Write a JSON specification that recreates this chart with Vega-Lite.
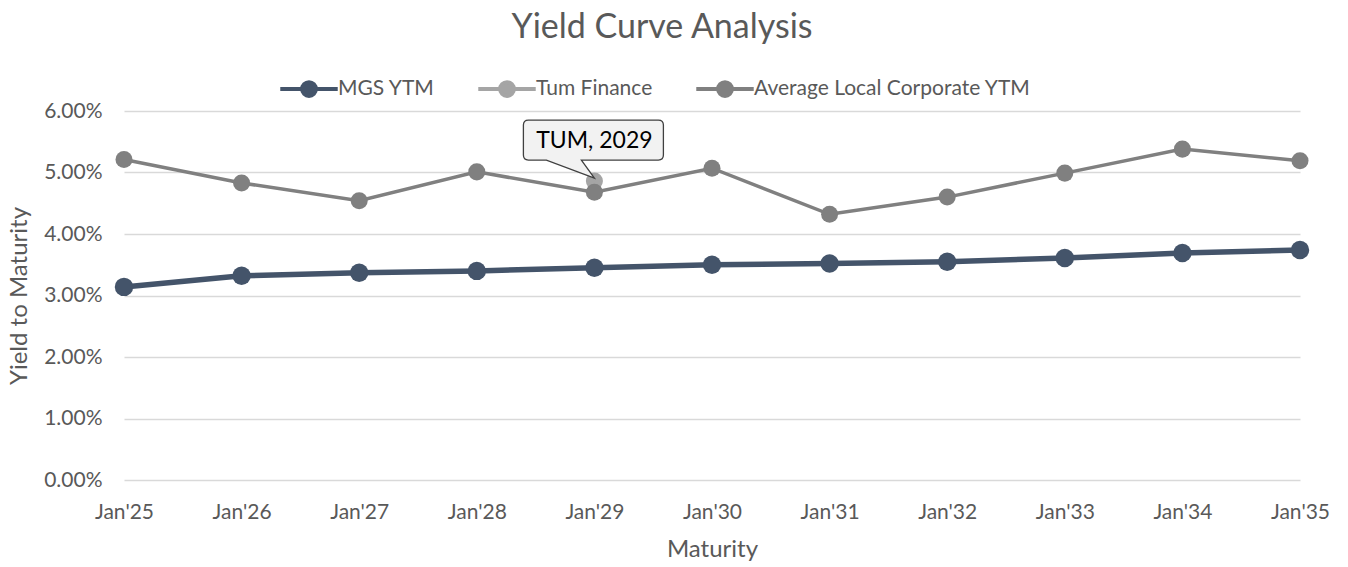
{
  "$schema": "https://vega.github.io/schema/vega-lite/v6.json",
  "autosize": "none",
  "padding": {"left": 124, "top": 111, "right": 48, "bottom": 87},
  "width": 1176,
  "height": 369,
  "background": "white",
  "config": {
    "font": "Lato",
    "view": {"stroke": null},
    "axis": {"labelFont": "Lato", "titleFont": "Lato", "labelColor": "#595959", "titleColor": "#595959", "titleFontWeight": "normal"}
  },
  "title": {"text": "Yield Curve Analysis", "fontSize": 34, "fontWeight": "normal", "color": "#595959", "font": "Lato", "anchor": "middle", "dx": -50, "offset": 13},
  "data": {"values": [
    {"date": "Jan'25", "series": "MGS YTM", "ytm": 0.0314},
    {"date": "Jan'26", "series": "MGS YTM", "ytm": 0.0332},
    {"date": "Jan'27", "series": "MGS YTM", "ytm": 0.0337},
    {"date": "Jan'28", "series": "MGS YTM", "ytm": 0.0340},
    {"date": "Jan'29", "series": "MGS YTM", "ytm": 0.0345},
    {"date": "Jan'30", "series": "MGS YTM", "ytm": 0.0350},
    {"date": "Jan'31", "series": "MGS YTM", "ytm": 0.0352},
    {"date": "Jan'32", "series": "MGS YTM", "ytm": 0.0355},
    {"date": "Jan'33", "series": "MGS YTM", "ytm": 0.0361},
    {"date": "Jan'34", "series": "MGS YTM", "ytm": 0.0369},
    {"date": "Jan'35", "series": "MGS YTM", "ytm": 0.0374},
    {"date": "Jan'29", "series": "Tum Finance", "ytm": 0.0486},
    {"date": "Jan'25", "series": "Average Local Corporate YTM", "ytm": 0.0521},
    {"date": "Jan'26", "series": "Average Local Corporate YTM", "ytm": 0.0483},
    {"date": "Jan'27", "series": "Average Local Corporate YTM", "ytm": 0.0454},
    {"date": "Jan'28", "series": "Average Local Corporate YTM", "ytm": 0.0501},
    {"date": "Jan'29", "series": "Average Local Corporate YTM", "ytm": 0.0468},
    {"date": "Jan'30", "series": "Average Local Corporate YTM", "ytm": 0.0507},
    {"date": "Jan'31", "series": "Average Local Corporate YTM", "ytm": 0.0432},
    {"date": "Jan'32", "series": "Average Local Corporate YTM", "ytm": 0.0460},
    {"date": "Jan'33", "series": "Average Local Corporate YTM", "ytm": 0.0499},
    {"date": "Jan'34", "series": "Average Local Corporate YTM", "ytm": 0.0538},
    {"date": "Jan'35", "series": "Average Local Corporate YTM", "ytm": 0.0519}
  ]},
  "encoding": {
    "x": {"field": "date", "type": "ordinal", "sort": null,
      "scale": {"type": "point", "padding": 0},
      "axis": {"title": "Maturity", "labelAngle": 0, "labelFontSize": 21, "titleFontSize": 24, "labelPadding": 21, "titlePadding": 15, "ticks": false, "domain": false, "grid": false}},
    "y": {"field": "ytm", "type": "quantitative",
      "scale": {"domain": [0, 0.06], "nice": false},
      "axis": {"title": "Yield to Maturity", "format": ".2%", "values": [0, 0.01, 0.02, 0.03, 0.04, 0.05, 0.06], "labelFontSize": 21, "titleFontSize": 24, "labelPadding": 22, "titlePadding": 12, "ticks": false, "domain": false, "gridColor": "#D9D9D9", "gridWidth": 1.3}},
    "color": {"field": "series", "type": "nominal",
      "scale": {"domain": ["MGS YTM", "Tum Finance", "Average Local Corporate YTM"], "range": ["#44546A", "#A5A5A5", "#808080"]},
      "legend": {"title": null, "orient": "none", "direction": "horizontal", "legendX": 154, "legendY": -53,
        "symbolType": "M-1,0L1,0M-0.24,0A0.24,0.24 0 1,1 0.24,0A0.24,0.24 0 1,1 -0.24,0Z",
        "symbolSize": 3300, "symbolStrokeWidth": 4, "labelFontSize": 21, "labelColor": "#595959", "labelFont": "Lato", "labelOffset": -2, "labelLimit": 400, "columnPadding": 35,
        "encode": {"symbols": {"update": {"fill": {"scale": "color", "field": "value"}, "stroke": {"scale": "color", "field": "value"}, "opacity": {"value": 1}}}}}
    }
  },
  "layer": [
    {"transform": [{"filter": "datum.series === 'MGS YTM'"}], "mark": {"type": "line", "strokeWidth": 5.5}},
    {"transform": [{"filter": "datum.series === 'MGS YTM'"}], "mark": {"type": "point", "filled": true, "opacity": 1, "size": 340}},
    {"transform": [{"filter": "datum.series === 'Tum Finance'"}], "mark": {"type": "point", "filled": true, "opacity": 1, "size": 290}},
    {"transform": [{"filter": "datum.series === 'Average Local Corporate YTM'"}], "mark": {"type": "line", "strokeWidth": 3.5}},
    {"transform": [{"filter": "datum.series === 'Average Local Corporate YTM'"}], "mark": {"type": "point", "filled": true, "opacity": 1, "size": 290}},
    {"transform": [{"filter": "datum.series === 'Tum Finance'"}],
      "mark": {"type": "point", "shape": "M-66,-61L64,-61Q69,-61 69,-56L69,-26Q69,-21 64,-21L-13,-21L0,-3L-48,-21L-66,-21Q-71,-21 -71,-26L-71,-56Q-71,-61 -66,-61Z", "size": 4, "filled": true, "fill": "#F2F2F2", "stroke": "#404040", "strokeWidth": 1.3, "opacity": 1},
      "encoding": {"color": {"value": "#F2F2F2"}}},
    {"transform": [{"filter": "datum.series === 'Tum Finance'"}],
      "mark": {"type": "text", "text": "TUM, 2029", "dy": -40, "fontSize": 23, "font": "Lato", "color": "#000000"},
      "encoding": {"color": {"value": "#000000"}}}
  ]
}
